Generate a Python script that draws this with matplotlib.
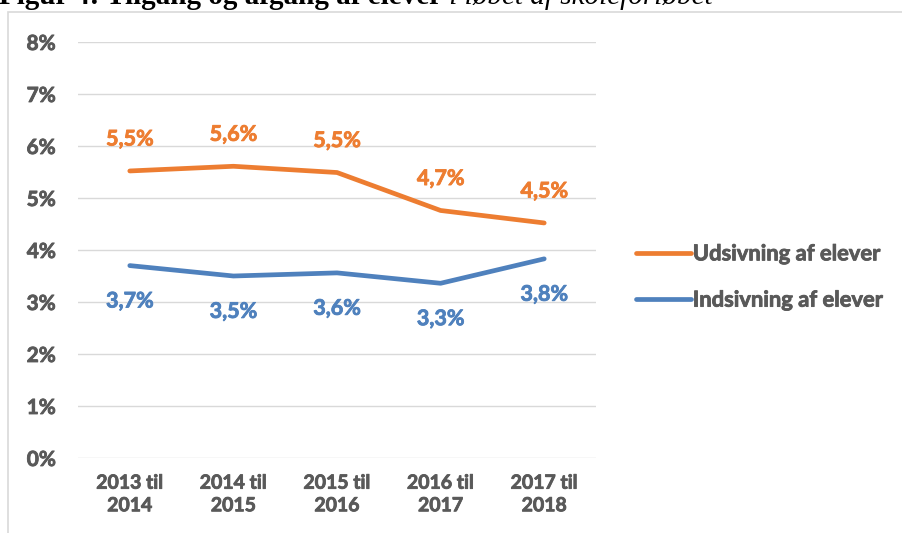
import matplotlib
matplotlib.use("Agg")
import matplotlib.pyplot as plt
from matplotlib.patches import Rectangle
import matplotlib.patheffects as pe

categories = ["2013 til\n2014", "2014 til\n2015", "2015 til\n2016", "2016 til\n2017", "2017 til\n2018"]
udsivning = [5.52, 5.61, 5.49, 4.76, 4.52]
indsivning = [3.70, 3.50, 3.56, 3.36, 3.83]
udsivning_labels = ["5,5%", "5,6%", "5,5%", "4,7%", "4,5%"]
indsivning_labels = ["3,7%", "3,5%", "3,6%", "3,3%", "3,8%"]
yticks = [0, 1, 2, 3, 4, 5, 6, 7, 8]
series_names = ["Udsivning af elever", "Indsivning af elever"]
title_bold = "Figur 4: Tilgang og afgang af elever"
title_rest = " i løbet af skoleforløbet"

ORANGE = "#ED7D31"
BLUE = "#4F81BD"
GRAY = "#595959"
FONT = "Lato"


def thick(color):
    return [pe.withStroke(linewidth=0.6, foreground=color)]


W, H = 902, 533
fig = plt.figure(figsize=(W / 100, H / 100), dpi=100)

# chart border
fig.patches.append(Rectangle((8 / W, -0.01), 1.0, (H - 12) / H + 0.01, transform=fig.transFigure,
                             fill=False, edgecolor="#D9D9D9", lw=1.2))

# title (clipped at the top edge, as in the source)
t1 = fig.text(-1 / W, 1.0 - 4.5 / H, title_bold, ha="left", va="baseline", fontsize=21,
              family="Liberation Serif", fontweight="bold", color="black")
fig.canvas.draw()
bb = t1.get_window_extent()
fig.text(bb.x1 / W, 1.0 - 4.5 / H, title_rest, ha="left", va="baseline", fontsize=21,
         family="Liberation Serif", style="italic", color="black")

ax = fig.add_axes([78 / W, (H - 458) / H, (596 - 78) / W, (458 - 42) / H])
x = list(range(len(categories)))
ax.plot(x, udsivning, color=ORANGE, lw=3.4, solid_capstyle="round", label=series_names[0])
ax.plot(x, indsivning, color=BLUE, lw=3.4, solid_capstyle="round", label=series_names[1])

for xi, v, lab in zip(x, udsivning, udsivning_labels):
    ax.annotate(lab, (xi, v), xytext=(0, 23), textcoords="offset points", ha="center", va="center",
                color=ORANGE, fontsize=15.5, fontweight="bold", family=FONT, path_effects=thick(ORANGE))
for xi, v, lab in zip(x, indsivning, indsivning_labels):
    ax.annotate(lab, (xi, v), xytext=(0, -25.5), textcoords="offset points", ha="center", va="center",
                color=BLUE, fontsize=15.5, fontweight="bold", family=FONT, path_effects=thick(BLUE))

ax.set_xlim(-0.5, len(categories) - 0.5)
ax.set_ylim(0, 8)
ax.set_yticks(yticks)
ax.set_yticklabels([f"{t}%" for t in yticks])
ax.set_xticks(x)
ax.set_xticklabels(categories)
ax.grid(axis="y", color="#D9D9D9", lw=1)
ax.set_axisbelow(True)
for s in ax.spines.values():
    s.set_visible(False)
ax.tick_params(length=0, colors=GRAY)
ax.tick_params(axis="y", pad=16, labelsize=15)
ax.tick_params(axis="x", pad=12, labelsize=14)
for lab in ax.get_xticklabels() + ax.get_yticklabels():
    lab.set_fontweight("bold")
    lab.set_family(FONT)
    lab.set_linespacing(1.4)
    lab.set_path_effects(thick(GRAY))

leg = fig.legend(loc="center left", bbox_to_anchor=(616 / W, (H - 277) / H), frameon=False,
                 handlelength=2.5, handletextpad=0.1, labelspacing=1.15,
                 prop={"family": FONT, "weight": "bold", "size": 15.8})
for t in leg.get_texts():
    t.set_color(GRAY)
    t.set_path_effects(thick(GRAY))

fig.savefig("out.png", dpi=100)
